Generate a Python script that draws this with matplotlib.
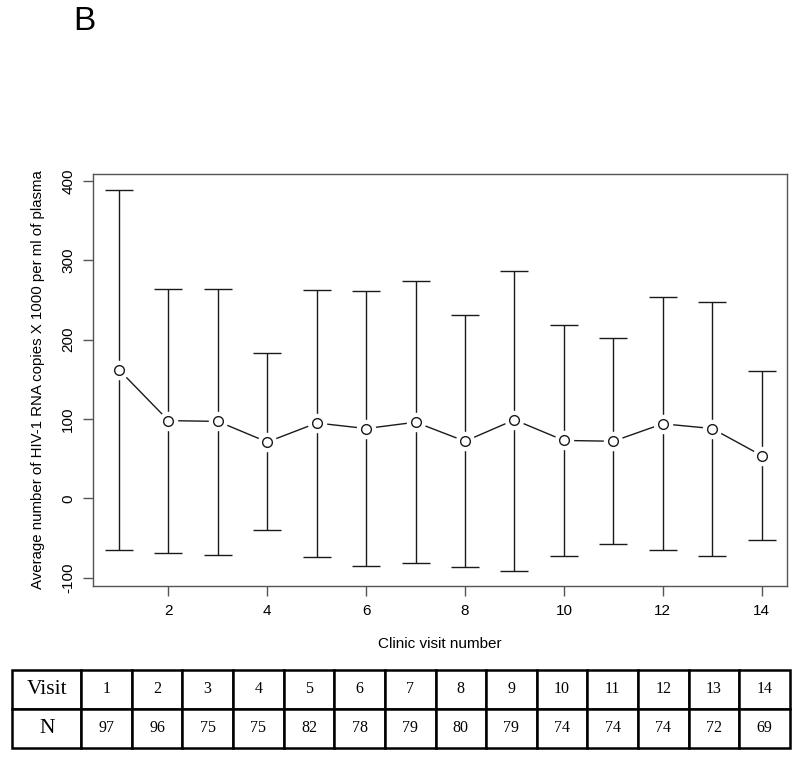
import matplotlib
matplotlib.use("Agg")
import matplotlib.pyplot as plt

plt.rcParams["axes.unicode_minus"] = False

# clinic visits and HIV-1 RNA summary (x1000 copies per ml)
visits = [1, 2, 3, 4, 5, 6, 7, 8, 9, 10, 11, 12, 13, 14]
means = [162, 98, 97, 71, 95, 88, 96, 72, 99, 73, 72, 94, 88, 54]
upper = [389, 264, 264, 183, 263, 261, 274, 231, 287, 219, 202, 254, 248, 160]
lower = [-65, -69, -71, -40, -74, -85, -81, -86, -91, -72, -58, -65, -73, -53]
n_counts = [97, 96, 75, 75, 82, 78, 79, 80, 79, 74, 74, 74, 72, 69]

W, H = 800, 759
fig = plt.figure(figsize=(W / 100, H / 100), dpi=100)
fig.patch.set_facecolor("white")

sans = "Liberation Sans"
serif = "Liberation Serif"

# main plot
ax = fig.add_axes([93.3 / W, 1 - 585.7 / H, (787.3 - 93.3) / W, (585.7 - 174) / H])

err_lo = [m - l for m, l in zip(means, lower)]
err_hi = [u - m for m, u in zip(means, upper)]
ax.errorbar(visits, means, yerr=[err_lo, err_hi], fmt="none", ecolor="#1a1a1a",
            elinewidth=1.0, capsize=10, capthick=1.0, zorder=1)
ax.plot(visits, means, color="#1a1a1a", lw=1.0, zorder=2)
# white halo so lines stop short of the circles
ax.plot(visits, means, "o", ms=13, mfc="white", mec="white", ls="none", zorder=3)
ax.plot(visits, means, "o", ms=7, mfc="white", mec="#1a1a1a", mew=1.0, ls="none", zorder=4)

ax.set_xlim(0.48, 14.52)
ax.set_ylim(-110, 408.7)
ax.set_xticks([2, 4, 6, 8, 10, 12, 14])
ax.set_yticks([-100, 0, 100, 200, 300, 400])
for s in ax.spines.values():
    s.set_color("#555555")
    s.set_linewidth(1.0)
ax.tick_params(axis="both", length=7, width=1.0, color="#555555", labelsize=11, pad=6)
for lab in ax.get_xticklabels() + ax.get_yticklabels():
    lab.set_fontfamily(sans)
for lab in ax.get_yticklabels():
    lab.set_rotation(90)
    lab.set_va("center")
ax.set_xlabel("Clinic visit number", fontsize=11, family=sans, labelpad=14)
ax.set_ylabel("Average number of HIV-1 RNA copies X 1000 per ml of plasma",
              fontsize=10.8, family=sans, labelpad=12)

fig.text(84 / W, 1 - 21 / H, "B", fontsize=24, family=sans, ha="center", va="center")

# table of counts
tax = fig.add_axes([12.3 / W, 1 - 747.7 / H, (790 - 12.3) / W, (747.7 - 670) / H])
tax.axis("off")
cell_text = [["Visit"] + [str(v) for v in visits],
             ["N"] + [str(n) for n in n_counts]]
col_w = [68.7] + [50.6] * len(visits)
tot = sum(col_w)
tbl = tax.table(cellText=cell_text, colWidths=[c / tot for c in col_w],
                cellLoc="center", bbox=[0, 0, 1, 1])
tbl.auto_set_font_size(False)
for (r, c), cell in tbl.get_celld().items():
    cell.set_linewidth(1.8)
    cell.set_edgecolor("black")
    txt = cell.get_text()
    txt.set_fontfamily(serif)
    txt.set_fontsize(15.5 if c == 0 else 11.5)

fig.savefig("out.png", dpi=100)
